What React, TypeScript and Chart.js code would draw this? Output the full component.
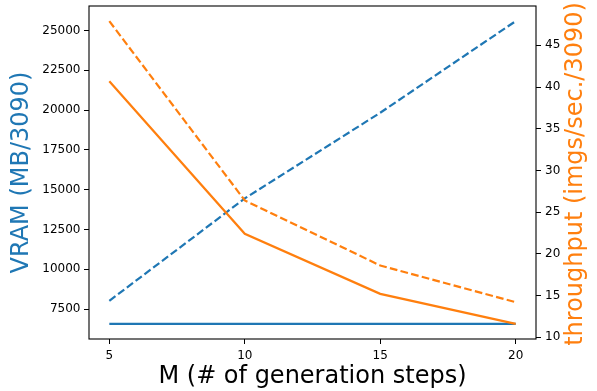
import React, { useEffect, useRef } from 'react';
import { Chart, registerables } from 'chart.js';

Chart.register(...registerables);

const steps = [5, 10, 15, 20];
const vramSolid = [6577, 6577, 6577, 6577];
const vramDashed = [8020, 14450, 19830, 25580];
const throughputSolid = [40.7, 22.4, 15.2, 11.6];
const throughputDashed = [47.9, 26.4, 18.6, 14.2];
const xTicks = [5, 10, 15, 20];
const vramTicks = [7500, 10000, 12500, 15000, 17500, 20000, 22500, 25000];
const throughputTicks = [10, 15, 20, 25, 30, 35, 40, 45];

const xTitle = 'M (# of generation steps)';
const leftTitle = 'VRAM (MB/3090)';
const rightTitle = 'throughput (imgs/sec./3090)';

const BLUE = '#1f77b4';
const ORANGE = '#ff7f0e';
const FONT = 'DejaVu Sans';

function margins(values: number[]) {
  const lo = Math.min(...values);
  const hi = Math.max(...values);
  const m = (hi - lo) * 0.05;
  return { min: lo - m, max: hi + m };
}

const pts = (ys: number[]) => steps.map((x, i) => ({ x, y: ys[i] }));

export default function App() {
  const ref = useRef<HTMLCanvasElement | null>(null);

  useEffect(() => {
    document.body.style.margin = '0';
    const canvas = ref.current;
    if (!canvas) return;

    const xr = margins(steps);
    const lr = margins([...vramSolid, ...vramDashed]);
    const rr = margins([...throughputSolid, ...throughputDashed]);

    const framePlugin = {
      id: 'frameAndRightTitle',
      afterDraw(chart: any) {
        const { ctx, chartArea: a } = chart;
        ctx.save();
        ctx.strokeStyle = '#000';
        ctx.lineWidth = 1.1;
        ctx.strokeRect(a.left, a.top, a.right - a.left, a.bottom - a.top);
        ctx.translate(576, (a.top + a.bottom) / 2 + 1.5);
        ctx.rotate(-Math.PI / 2);
        ctx.fillStyle = ORANGE;
        ctx.font = `24px "${FONT}"`;
        ctx.textAlign = 'center';
        ctx.textBaseline = 'middle';
        ctx.fillText(rightTitle, 0, 0);
        ctx.restore();
      },
    };

    const tickFont = { family: FONT, size: 12 };
    const grid = {
      drawOnChartArea: false,
      drawTicks: true,
      tickLength: 5,
      color: '#000',
      lineWidth: 1,
    };

    const chart = new Chart(canvas, {
      type: 'line',
      data: {
        datasets: [
          {
            data: pts(throughputDashed),
            yAxisID: 'y1',
            borderColor: ORANGE,
            borderWidth: 2.2,
            borderDash: [7.7, 3.3],
            pointRadius: 0,
            fill: false,
            tension: 0,
          },
          {
            data: pts(throughputSolid),
            yAxisID: 'y1',
            borderColor: ORANGE,
            borderWidth: 2.2,
            pointRadius: 0,
            fill: false,
            tension: 0,
          },
          {
            data: pts(vramDashed),
            yAxisID: 'y',
            borderColor: BLUE,
            borderWidth: 2.2,
            borderDash: [7.7, 3.3],
            pointRadius: 0,
            fill: false,
            tension: 0,
          },
          {
            data: pts(vramSolid),
            yAxisID: 'y',
            borderColor: BLUE,
            borderWidth: 2.2,
            pointRadius: 0,
            fill: false,
            tension: 0,
          },
        ],
      },
      options: {
        animation: false,
        responsive: false,
        devicePixelRatio: 1,
        layout: { padding: { top: 6, left: 0, right: 0, bottom: 0 } },
        plugins: {
          legend: { display: false },
          tooltip: { enabled: false },
        },
        scales: {
          x: {
            type: 'linear',
            min: xr.min,
            max: xr.max,
            border: { display: false },
            grid,
            afterBuildTicks: (axis: any) => {
              axis.ticks = xTicks.map((v) => ({ value: v }));
            },
            afterFit: (axis: any) => {
              axis.height = 52;
              axis.paddingLeft = 0;
              axis.paddingRight = 0;
            },
            ticks: {
              font: tickFont,
              color: '#000',
              padding: 4.5,
              maxRotation: 0,
              autoSkip: false,
              callback: (v: any) => String(v),
            },
            title: {
              display: true,
              text: xTitle,
              color: '#000',
              font: { family: FONT, size: 24 },
              padding: { top: 0, bottom: 0 },
            },
          },
          y: {
            type: 'linear',
            position: 'left',
            min: lr.min,
            max: lr.max,
            border: { display: false },
            grid,
            afterBuildTicks: (axis: any) => {
              axis.ticks = vramTicks.map((v) => ({ value: v }));
            },
            afterFit: (axis: any) => {
              axis.width = 89;
              axis.paddingTop = 0;
              axis.paddingBottom = 0;
            },
            ticks: {
              font: tickFont,
              color: '#000',
              padding: 3.5,
              autoSkip: false,
              callback: (v: any) => String(v),
            },
            title: {
              display: true,
              text: leftTitle,
              color: BLUE,
              font: { family: FONT, size: 24 },
              padding: { top: 7, bottom: 0 },
            },
          },
          y1: {
            type: 'linear',
            position: 'right',
            min: rr.min,
            max: rr.max,
            border: { display: false },
            grid,
            afterBuildTicks: (axis: any) => {
              axis.ticks = throughputTicks.map((v) => ({ value: v }));
            },
            afterFit: (axis: any) => {
              axis.width = 61;
              axis.paddingTop = 0;
              axis.paddingBottom = 0;
            },
            ticks: {
              font: tickFont,
              color: '#000',
              padding: 4,
              autoSkip: false,
              callback: (v: any) => String(v),
            },
          },
        },
      },
      plugins: [framePlugin],
    } as any);

    return () => chart.destroy();
  }, []);

  return (
    <div style={{ position: 'fixed', left: 0, top: 0, width: 597, height: 391, background: '#fff' }}>
      <canvas ref={ref} width={597} height={391} style={{ width: 597, height: 391, display: 'block' }} />
    </div>
  );
}
